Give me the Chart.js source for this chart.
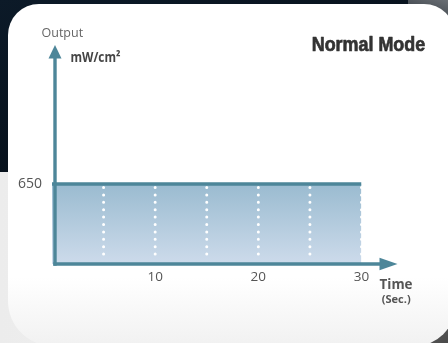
<!DOCTYPE html>
<html>
<head>
<meta charset="utf-8">
<script src="https://cdn.jsdelivr.net/npm/chart.js@4"></script>
<style>
  html, body { margin: 0; padding: 0; }
  body { width: 448px; height: 343px; position: relative; overflow: hidden;
         background: linear-gradient(160deg, #0c1a28 0%, #040b14 60%, #03070d 100%); }
  .lower { position: absolute; left: 0; top: 172px; width: 400px; height: 171px;
           background: linear-gradient(90deg, #ececec 0%, #f6f6f6 100%); }
  .corner-tr { position: absolute; right: 0; top: 0; width: 40px; height: 24px;
               background: linear-gradient(200deg, #6a6f74 0%, #3b4148 70%); }
  .corner-br { position: absolute; right: 0; bottom: 0; width: 48px; height: 40px;
               background: linear-gradient(135deg, #6d6d6d 0%, #4a4a4a 100%); }
  .card { position: absolute; left: 8px; top: 4px; width: 447px; height: 342px;
          border-radius: 31px 31px 40px 45px;
          background: linear-gradient(180deg, #ffffff 0%, #ffffff 80%, #f1f1f1 100%); }
  canvas { position: absolute; left: 0; top: 0; }
</style>
</head>
<body>
<div class="lower"></div>
<div class="corner-tr"></div>
<div class="corner-br"></div>
<div class="card"></div>
<canvas id="chart" width="448" height="343"></canvas>
<script>
// Output level over time in normal mode
const timeSec = [0, 30];
const outputMw = [650, 650];
const xTickValues = [10, 20, 30];
const yTickValues = [650];
const pulseMarks = [5, 10, 15, 20, 25, 30];

const AXIS_COLOR = '#4d8699';

// Draw text squeezed/stretched to a given width, optionally thickened
function drawFit(ctx, text, x, y, width, font, color, thicken) {
  ctx.save();
  ctx.font = font;
  ctx.fillStyle = color;
  ctx.strokeStyle = color;
  ctx.textAlign = 'left';
  ctx.textBaseline = 'alphabetic';
  const w = ctx.measureText(text).width;
  ctx.translate(x, y);
  ctx.scale(width / w, 1);
  ctx.fillText(text, 0, 0);
  if (thicken) {
    ctx.lineWidth = thicken;
    ctx.lineJoin = 'round';
    ctx.strokeText(text, 0, 0);
  }
  ctx.restore();
}

const decorations = {
  id: 'decorations',
  afterDatasetsDraw(chart) {
    const { ctx, chartArea, scales: { x, y } } = chart;
    const top = y.getPixelForValue(Math.max(...outputMw));
    const base = y.getPixelForValue(0);

    // white dotted pulse separators
    ctx.save();
    ctx.strokeStyle = '#ffffff';
    ctx.lineWidth = 3;
    ctx.lineCap = 'round';
    ctx.setLineDash([0, 7.4]);
    pulseMarks.forEach(t => {
      const px = x.getPixelForValue(t);
      ctx.beginPath();
      ctx.moveTo(px, top + 3.5);
      ctx.lineTo(px, base - 3);
      ctx.stroke();
    });
    ctx.restore();

    // axes with arrowheads
    const ax = x.getPixelForValue(0) + 3;
    ctx.save();
    ctx.fillStyle = AXIS_COLOR;
    ctx.strokeStyle = AXIS_COLOR;
    ctx.lineWidth = 3.4;
    ctx.lineCap = 'butt';
    const yTip = chartArea.top - 59;
    const xTip = chartArea.right + 36;
    ctx.beginPath();
    ctx.moveTo(ax, base + 1.7);
    ctx.lineTo(ax, yTip + 12);
    ctx.stroke();
    ctx.beginPath();
    ctx.moveTo(ax - 1.7, base);
    ctx.lineTo(xTip - 16, base);
    ctx.stroke();
    ctx.beginPath();
    ctx.moveTo(ax, yTip);
    ctx.lineTo(ax + 6.5, yTip + 13.5);
    ctx.lineTo(ax - 6.5, yTip + 13.5);
    ctx.closePath();
    ctx.fill();
    ctx.beginPath();
    ctx.moveTo(xTip, base);
    ctx.lineTo(xTip - 18, base - 6.3);
    ctx.lineTo(xTip - 18, base + 6.3);
    ctx.closePath();
    ctx.fill();
    ctx.restore();
  },
  afterDraw(chart) {
    const { ctx } = chart;
    ctx.save();
    ctx.font = '12.5px "Open Sans", sans-serif';
    ctx.fillStyle = '#666666';
    ctx.fillText('Output', 41.5, 37);
    ctx.restore();
    drawFit(ctx, 'mW/cm²', 70.5, 61.8, 50, 'bold 13.5px "Open Sans", sans-serif', '#444444');
    drawFit(ctx, 'Normal Mode', 311.7, 51.2, 113.5, 'bold 20.5px "Liberation Sans", Arial, sans-serif', '#333333', 0.7);
    drawFit(ctx, 'Time', 379.5, 289.2, 33, 'bold 15px "Open Sans", sans-serif', '#555555');
    drawFit(ctx, '(Sec.)', 381.7, 303.2, 29, 'bold 10.5px "Open Sans", sans-serif', '#555555');
  }
};

new Chart(document.getElementById('chart'), {
  type: 'line',
  data: {
    datasets: [{
      data: timeSec.map((t, i) => ({ x: t, y: outputMw[i] })),
      borderColor: AXIS_COLOR,
      borderWidth: 3.4,
      pointRadius: 0,
      tension: 0,
      fill: 'origin',
      backgroundColor(context) {
        const chart = context.chart;
        if (!chart.chartArea) return 'rgba(160,190,210,1)';
        const y = chart.scales.y;
        const g = chart.ctx.createLinearGradient(0, y.getPixelForValue(Math.max(...outputMw)), 0, y.getPixelForValue(0));
        g.addColorStop(0, '#9abbd0');
        g.addColorStop(1, '#cddbeb');
        return g;
      }
    }]
  },
  options: {
    responsive: false,
    devicePixelRatio: 1,
    animation: false,
    layout: { padding: { top: 104, right: 86.5, left: 0, bottom: 0 } },
    plugins: { legend: { display: false }, tooltip: { enabled: false }, title: { display: false } },
    scales: {
      x: {
        type: 'linear',
        min: 0,
        max: 30,
        grid: { display: false, drawTicks: false },
        border: { display: false },
        afterBuildTicks(s) { s.ticks = xTickValues.map(v => ({ value: v })); },
        afterFit(s) { s.height = 79; },
        ticks: {
          padding: 5,
          color: '#555555',
          font: { family: '"Open Sans", sans-serif', size: 13.5 },
          callback: v => String(v),
          maxRotation: 0
        }
      },
      y: {
        type: 'linear',
        min: 0,
        max: 1300,
        grid: { display: false, drawTicks: false },
        border: { display: false },
        afterBuildTicks(s) { s.ticks = yTickValues.map(v => ({ value: v })); },
        afterFit(s) { s.width = 52; },
        ticks: {
          padding: 10,
          color: '#555555',
          font: { family: '"Open Sans", sans-serif', size: 14 },
          callback: v => String(v)
        }
      }
    }
  },
  plugins: [decorations]
});
</script>
</body>
</html>
